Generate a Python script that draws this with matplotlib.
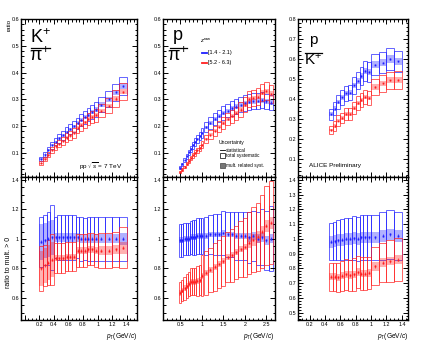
import matplotlib
matplotlib.use("Agg")
import matplotlib.pyplot as plt
from matplotlib.ticker import MultipleLocator, FuncFormatter
from matplotlib.patches import Rectangle
from matplotlib.lines import Line2D

plt.rcParams['font.family'] = ['Liberation Sans', 'DejaVu Sans']
plt.rcParams['mathtext.fontset'] = 'custom'
plt.rcParams['mathtext.rm'] = 'Liberation Sans'
plt.rcParams['mathtext.it'] = 'Liberation Sans:italic'
plt.rcParams['mathtext.bf'] = 'Liberation Sans:bold'

BLUE = '#2020ff'
RED = '#ff2020'

# ---------------- K/pi ----------------
kpi_x = [0.225, 0.275, 0.325, 0.375, 0.425, 0.475, 0.525, 0.575, 0.625, 0.675,
         0.725, 0.775, 0.825, 0.875, 0.925, 0.975, 1.05, 1.15, 1.25, 1.35]
kpi_w = [0.05] * 16 + [0.1] * 4
kpi_blue = [0.077, 0.094, 0.111, 0.128, 0.142, 0.154, 0.166, 0.178, 0.188, 0.199,
            0.211, 0.222, 0.233, 0.243, 0.252, 0.262, 0.280, 0.300, 0.326, 0.350]
kpi_red = [0.062, 0.077, 0.093, 0.110, 0.124, 0.134, 0.144, 0.157, 0.165, 0.175,
           0.194, 0.204, 0.214, 0.226, 0.234, 0.241, 0.258, 0.276, 0.303, 0.329]
kpi_rblue = [0.98, 0.99, 1.00, 1.01, 1.01, 1.01, 1.01, 1.01, 1.01, 1.01,
             1.01, 1.00, 1.00, 1.00, 1.00, 1.00, 1.00, 1.00, 1.00, 1.00]
kpi_rblue_sys = [0.17, 0.17, 0.18, 0.22, 0.14, 0.15, 0.15, 0.15, 0.15, 0.15,
                 0.14, 0.15, 0.14, 0.15, 0.15, 0.15, 0.15, 0.15, 0.15, 0.15]
kpi_rblue_msys = [0.12, 0.12, 0.12, 0.12, 0.03, 0.03, 0.03, 0.03, 0.03, 0.03,
                  0.03, 0.03, 0.03, 0.03, 0.03, 0.03, 0.03, 0.03, 0.03, 0.04]
kpi_rred = [0.80, 0.82, 0.84, 0.86, 0.87, 0.87, 0.87, 0.88, 0.88, 0.88,
            0.92, 0.92, 0.92, 0.93, 0.93, 0.92, 0.92, 0.92, 0.93, 0.94]
kpi_rred_sys = [0.15, 0.14, 0.15, 0.17, 0.10, 0.10, 0.10, 0.10, 0.10, 0.10,
                0.11, 0.11, 0.11, 0.11, 0.11, 0.11, 0.12, 0.12, 0.12, 0.14]
kpi_rred_msys = [0.12, 0.12, 0.12, 0.12, 0.02, 0.02, 0.02, 0.02, 0.02, 0.02,
                 0.025, 0.025, 0.025, 0.025, 0.025, 0.025, 0.03, 0.03, 0.03, 0.04]

# ---------------- p/pi ----------------
ppi_x = [0.5, 0.55, 0.6, 0.65, 0.7, 0.75, 0.8, 0.85, 0.9, 0.95, 1.0,
         1.1, 1.2, 1.3, 1.4, 1.5, 1.6, 1.7, 1.8, 1.9, 2.0,
         2.1, 2.2, 2.3, 2.4, 2.5, 2.6]
ppi_w = [0.05] * 11 + [0.1] * 16
ppi_blue = [0.045, 0.058, 0.072, 0.087, 0.102, 0.115, 0.128, 0.140, 0.152, 0.163, 0.174,
            0.196, 0.212, 0.226, 0.238, 0.249, 0.258, 0.266, 0.273, 0.280, 0.286,
            0.290, 0.293, 0.295, 0.296, 0.292, 0.288]
ppi_red = [0.029, 0.038, 0.048, 0.059, 0.071, 0.082, 0.091, 0.100, 0.109, 0.117, 0.130,
           0.151, 0.168, 0.183, 0.198, 0.212, 0.226, 0.237, 0.248, 0.262, 0.280,
           0.300, 0.305, 0.310, 0.325, 0.330, 0.320]
ppi_rblue = [0.99, 0.99, 1.00, 1.00, 1.00, 1.01, 1.01, 1.01, 1.02, 1.02, 1.02,
             1.02, 1.03, 1.03, 1.03, 1.04, 1.03, 1.03, 1.02, 1.02, 1.02,
             1.01, 1.02, 1.00, 1.01, 0.99, 1.00]
ppi_rblue_sys = [0.11, 0.11, 0.11, 0.11, 0.11, 0.11, 0.12, 0.12, 0.12, 0.12, 0.12,
                 0.13, 0.13, 0.14, 0.14, 0.15, 0.15, 0.15, 0.16, 0.16, 0.16,
                 0.17, 0.17, 0.18, 0.19, 0.20, 0.22]
ppi_rblue_msys = [0.02] * 21 + [0.03] * 6
ppi_rred = [0.635, 0.65, 0.665, 0.68, 0.695, 0.71, 0.71, 0.71, 0.715, 0.72, 0.75,
            0.77, 0.79, 0.81, 0.83, 0.85, 0.875, 0.89, 0.91, 0.93, 0.945,
            0.975, 0.995, 1.015, 1.05, 1.09, 1.11]
ppi_rred_sys = [0.07, 0.07, 0.08, 0.08, 0.08, 0.09, 0.09, 0.09, 0.10, 0.10, 0.14,
                0.15, 0.15, 0.16, 0.16, 0.17, 0.17, 0.18, 0.18, 0.19, 0.20,
                0.21, 0.22, 0.23, 0.25, 0.27, 0.28]
ppi_rred_msys = [0.02] * 21 + [0.04] * 6

# ---------------- p/K ----------------
pk_x = [0.475, 0.525, 0.575, 0.625, 0.675, 0.725, 0.775, 0.825, 0.875, 0.925, 0.975,
        1.05, 1.15, 1.25, 1.35]
pk_w = [0.05] * 11 + [0.1] * 4
pk_blue = [0.323, 0.352, 0.385, 0.408, 0.428, 0.432, 0.468, 0.492, 0.515, 0.540, 0.535,
           0.572, 0.582, 0.600, 0.588]
pk_red = [0.245, 0.265, 0.292, 0.305, 0.325, 0.325, 0.355, 0.380, 0.395, 0.410, 0.405,
          0.460, 0.478, 0.493, 0.495]
pk_rblue = [0.98, 0.985, 0.99, 0.995, 1.00, 1.00, 1.005, 1.00, 1.01, 1.01, 1.01,
            1.01, 1.02, 1.03, 1.02]
pk_rblue_sys = [0.125, 0.13, 0.135, 0.14, 0.14, 0.145, 0.15, 0.15, 0.15, 0.15, 0.15,
                0.15, 0.16, 0.165, 0.165]
pk_rblue_msys = [0.04] * 15
pk_rred = [0.745, 0.745, 0.74, 0.75, 0.76, 0.755, 0.76, 0.775, 0.765, 0.765, 0.77,
           0.815, 0.84, 0.85, 0.86]
pk_rred_sys = [0.095, 0.095, 0.10, 0.10, 0.105, 0.105, 0.11, 0.11, 0.11, 0.11, 0.11,
               0.13, 0.13, 0.14, 0.145]
pk_rred_msys = [0.025] * 11 + [0.03] * 4

top_rel_sys = {'kpi': 0.10, 'ppi': 0.10, 'pk': 0.09}
top_rel_msys = 0.03

W, H = 424, 356
fig = plt.figure(figsize=(W / 100, H / 100), dpi=100)


def add_ax(l, t, r, b):
    return fig.add_axes([l / W, 1 - b / H, (r - l) / W, (b - t) / H])


def style(ax, xmaj, xmin, ymaj, ymin, xlabels=True):
    ax.xaxis.set_major_locator(MultipleLocator(xmaj))
    ax.xaxis.set_minor_locator(MultipleLocator(xmin))
    ax.yaxis.set_major_locator(MultipleLocator(ymaj))
    ax.yaxis.set_minor_locator(MultipleLocator(ymin))
    fmt = FuncFormatter(lambda v, p: '' if abs(v) < 1e-9 else f'{v:g}')
    ax.xaxis.set_major_formatter(fmt)
    ax.yaxis.set_major_formatter(fmt)
    ax.tick_params(which='both', direction='in', top=True, right=True,
                   labelsize=3.9, pad=1.5, width=0.7)
    ax.tick_params(which='major', length=3.5)
    ax.tick_params(which='minor', length=1.8)
    if not xlabels:
        ax.tick_params(labelbottom=False)
    for s in ax.spines.values():
        s.set_linewidth(1.0)


def draw(ax, x, w, y, sys, msys, color, falpha=0.35):
    ybot = [a - b for a, b in zip(y, sys)]
    hs = [2 * b for b in sys]
    ax.bar(x, hs, width=w, bottom=ybot, fill=False, edgecolor=color,
           linewidth=0.7, alpha=0.7)
    mbot = [a - b for a, b in zip(y, msys)]
    mh = [2 * b for b in msys]
    ax.bar(x, mh, width=w, bottom=mbot, color=color, alpha=falpha, linewidth=0)
    ax.errorbar(x, y, yerr=[0.004 * (1 if max(y) < 0.8 else 2.5)] * len(x),
                fmt='s', ms=1.3, color=color, elinewidth=0.5, capsize=0, mew=0)


# Axes
ax1t = add_ax(21, 19, 137, 177)
ax1b = add_ax(21, 177, 137, 320)
ax2t = add_ax(163, 19, 275, 177)
ax2b = add_ax(163, 177, 275, 320)
ax3t = add_ax(298, 19, 408, 177)
ax3b = add_ax(298, 177, 408, 320)

# top panels
for ax, x, w, yb, yr, key in [(ax1t, kpi_x, kpi_w, kpi_blue, kpi_red, 'kpi'),
                              (ax2t, ppi_x, ppi_w, ppi_blue, ppi_red, 'ppi'),
                              (ax3t, pk_x, pk_w, pk_blue, pk_red, 'pk')]:
    rs = top_rel_sys[key]
    draw(ax, x, w, yb, [v * rs for v in yb], [v * top_rel_msys for v in yb], BLUE)
    draw(ax, x, w, yr, [v * rs for v in yr], [v * top_rel_msys for v in yr], RED)

draw(ax1b, kpi_x, kpi_w, kpi_rblue, kpi_rblue_sys, kpi_rblue_msys, BLUE)
draw(ax1b, kpi_x, kpi_w, kpi_rred, kpi_rred_sys, kpi_rred_msys, RED)
draw(ax2b, ppi_x, ppi_w, ppi_rblue, ppi_rblue_sys, ppi_rblue_msys, BLUE)
draw(ax2b, ppi_x, ppi_w, ppi_rred, ppi_rred_sys, ppi_rred_msys, RED)
draw(ax3b, pk_x, pk_w, pk_rblue, pk_rblue_sys, pk_rblue_msys, BLUE)
draw(ax3b, pk_x, pk_w, pk_rred, pk_rred_sys, pk_rred_msys, RED)

ax1t.set_xlim(-0.05, 1.54); ax1b.set_xlim(-0.05, 1.54)
ax2t.set_xlim(0.1, 2.7); ax2b.set_xlim(0.1, 2.7)
ax3t.set_xlim(0.05, 1.48); ax3b.set_xlim(0.05, 1.48)
ax1t.set_ylim(0.01, 0.5); ax2t.set_ylim(0.01, 0.5); ax3t.set_ylim(0.01, 0.75)
for ax in (ax1b, ax2b, ax3b):
    ax.set_ylim(0.45, 1.42)

style(ax1t, 0.2, 0.05, 0.1, 0.02, xlabels=False)
style(ax2t, 0.5, 0.1, 0.1, 0.02, xlabels=False)
style(ax3t, 0.2, 0.05, 0.1, 0.02, xlabels=False)
style(ax1b, 0.2, 0.05, 0.2, 0.05)
style(ax2b, 0.5, 0.1, 0.2, 0.05)
style(ax3b, 0.2, 0.05, 0.1, 0.02)
for ax in (ax1t, ax2t, ax3t):
    ax.set_yticks([t for t in ax.get_yticks() if t > 0.05])

# fractions
def frac(cx, ytop, ybar, ybot, num, den, fs, half):
    fig.text(cx / W, 1 - ytop / H, num, fontsize=fs, ha='center', va='center')
    fig.add_artist(Line2D([(cx - half) / W, (cx + half) / W], [1 - ybar / H] * 2,
                          color='black', lw=0.9, transform=fig.transFigure))
    fig.text(cx / W, 1 - ybot / H, den, fontsize=fs, ha='center', va='center')

frac(40, 38, 48, 56, r'K$^{+}$', r'$\mathregular{\pi}^{+}$', 13, 9.5)
frac(178, 36, 48, 56, 'p', r'$\mathregular{\pi}^{+}$', 13, 8.5)
frac(313, 40, 53, 60, 'p', r'K$^{+}$', 11, 8.5)

fig.text(122 / W, 1 - 166 / H, r'pp $\sqrt{s}$ = 7 TeV', fontsize=4.6, ha='right', va='center')
fig.text(309 / W, 1 - 166 / H, 'ALICE Preliminary', fontsize=4.6, ha='left', va='center')

# multiplicity legend
fig.text(200 / W, 1 - 41 / H, r'$z^{\mathregular{raw}}$', fontsize=4.2, ha='left', va='center')
for yy, col, lab in [(52.5, BLUE, '[1.4 - 2.1)'), (62.5, RED, '[5.2 - 6.3)')]:
    fig.add_artist(Line2D([201.5 / W, 207 / W], [1 - yy / H] * 2, color=col, lw=1.3,
                          transform=fig.transFigure))
    fig.text(207.5 / W, 1 - yy / H, lab, fontsize=4.0, ha='left', va='center')

# uncertainty legend
fig.text(219 / W, 1 - 142.5 / H, 'Uncertainty', fontsize=3.6, ha='left', va='center')
fig.add_artist(Line2D([220 / W, 225 / W], [1 - 150 / H] * 2, color='black', lw=0.6,
                      transform=fig.transFigure))
fig.text(226 / W, 1 - 150 / H, 'statistical', fontsize=3.4, ha='left', va='center')
fig.add_artist(Rectangle((219.5 / W, 1 - 158 / H), 5.5 / W, 5 / H, fill=False,
                         edgecolor='black', lw=0.5, transform=fig.transFigure))
fig.text(226 / W, 1 - 155.5 / H, 'total systematic', fontsize=3.4, ha='left', va='center')
fig.add_artist(Rectangle((219.5 / W, 1 - 167.5 / H), 5.5 / W, 5 / H, facecolor='#777777',
                         edgecolor='#444444', lw=0.5, transform=fig.transFigure))
fig.text(226 / W, 1 - 165 / H, 'mult. related syst.', fontsize=3.4, ha='left', va='center')

# axis titles
fig.text(9 / W, 1 - 19 / H, 'ratio', fontsize=4.5, rotation=90, ha='center', va='top')
fig.text(9 / W, 1 - 262 / H, 'ratio to mult. > 0', fontsize=5, rotation=90,
         ha='center', va='center')
for xr in (137, 274, 408):
    fig.text(xr / W, 1 - 336 / H, r'$p_{\mathregular{T}}$(GeV/$c$)', fontsize=4.8,
             ha='right', va='center')

fig.savefig('out.png', dpi=100)
